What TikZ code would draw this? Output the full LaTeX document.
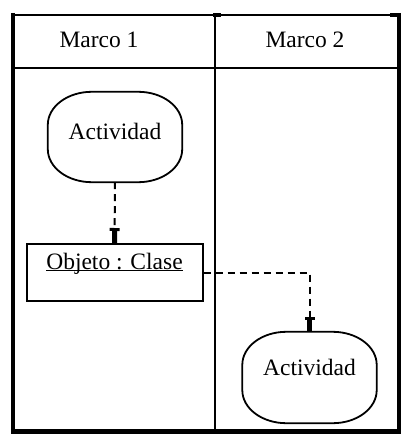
\documentclass[tikz,border=0pt]{standalone}
\usepackage{fontspec}
\setmainfont{Liberation Serif}
\usetikzlibrary{arrows.meta,calc}
\newcommand{\actoutline}[1]{%
  \draw[outl] ($(#1.north west)+(44,0)$) -- ($(#1.north east)+(-44,0)$)
    arc[start angle=90,end angle=0,x radius=44,y radius=33]
    -- ($(#1.south east)+(0,33)$)
    arc[start angle=0,end angle=-90,x radius=44,y radius=33]
    -- ($(#1.south west)+(44,0)$)
    arc[start angle=270,end angle=180,x radius=44,y radius=33]
    -- ($(#1.north west)+(0,-33)$)
    arc[start angle=180,end angle=90,x radius=44,y radius=33] -- cycle;}
\tikzset{
  bigfont/.style={font=\fontsize{23.5}{28}\selectfont},
  lbl/.style={bigfont, anchor=base, inner sep=0pt},
  act/.style={bigfont, minimum width=134pt, minimum height=90pt, inner sep=0pt, text height=16pt},
  outl/.style={line width=1.8pt},
  objbox/.style={bigfont, draw, line width=2pt, minimum width=176pt, minimum height=57pt, inner sep=0pt, text height=16pt, text depth=23pt},
  flow/.style={line width=2pt, dash pattern=on 7pt off 5pt,
    -{Rectangle[length=3pt,width=10pt]Rectangle[length=12pt,width=5pt]}},
  lane/.style={line width=2pt},
}
\begin{document}
\begin{tikzpicture}[x=1pt,y=1pt]
\useasboundingbox (0,0) rectangle (413,-446);
% swimlane frame
\draw[lane] (13,-15) -- (399,-15);
\draw[lane] (13,-68) -- (399,-68);
\draw[lane] (215,-15) -- (215,-431);
\draw[line width=4.5pt] (13,-13) -- (13,-433);
\draw[line width=4pt] (399,-13) -- (399,-433);
\draw[line width=5pt] (10.75,-431) -- (401,-431);
\draw[line width=3.5pt] (213,-15) -- (221,-15);
\draw[line width=3.5pt] (390,-15) -- (401,-15);
% headers
\node[lbl] (m1) at (99,-48) {Marco 1};
\node[lbl] (m2) at (305,-48) {Marco 2};
% activities and object
\node[act, text depth=10pt] (act1) at (115,-137) {Actividad};
\actoutline{act1}
\node[act, minimum height=91pt, text depth=21pt] (act2) at (309.5,-377.5) {Actividad};
\actoutline{act2}
\node[objbox] (obj) at (114.5,-272.5) {\underline{\smash{Objeto : Clase}}};
% flows
\draw[flow] (act1.south) -- (obj.north);
\draw[flow] (obj.east) -| (act2.north);
\end{tikzpicture}
\end{document}
